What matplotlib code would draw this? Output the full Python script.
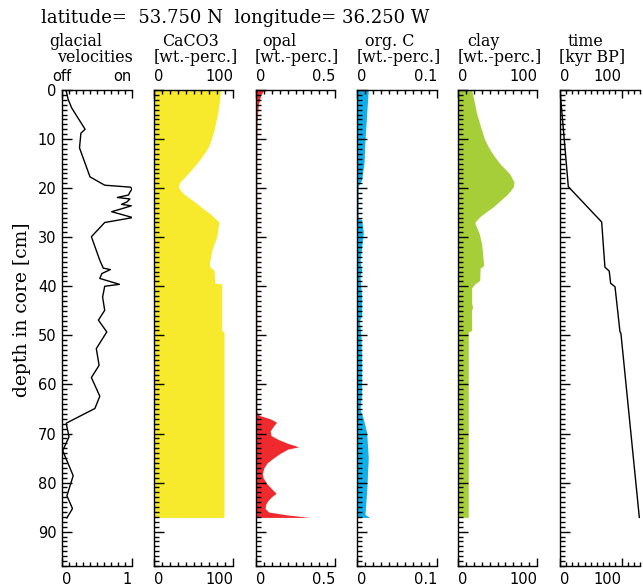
import numpy as np
import matplotlib
matplotlib.use('Agg')
import matplotlib.pyplot as plt
from matplotlib.ticker import FixedLocator, MultipleLocator

# ---------------- data ----------------
vel_depth = [0.2, 2, 3.7, 8, 8.8, 11.8, 17.7, 19.4, 19.8, 20.2, 20.8, 21.4, 21.9,
             22.2, 22.8, 23.3, 23.6, 24.0, 24.8, 26.0, 27.0, 29.9, 34.7, 36.3,
             36.6, 37.4, 38.4, 39.6, 40.0, 42.2, 44.9, 46.9, 49.3, 52.7, 56.1,
             58.6, 62.4, 64.9, 67.9, 70.7, 73.5, 78.6, 82.7, 85.3, 87.2]
vel_value = [0.06, 0.09, 0.14, 0.33, 0.27, 0.25, 0.40, 0.61, 0.98, 1.0, 0.97, 0.95,
             0.79, 0.97, 0.93, 0.85, 0.99, 0.90, 0.71, 1.01, 0.61, 0.42, 0.54,
             0.59, 0.69, 0.57, 0.54, 0.82, 0.61, 0.58, 0.61, 0.52, 0.64, 0.49,
             0.53, 0.42, 0.54, 0.47, 0.06, 0.10, 0.01, 0.16, 0.07, 0.15, 0.07]

caco3_depth = [0, 2, 4.8, 8.2, 10, 11.6, 13.3, 15, 16.4, 17.7, 18.5, 19.0, 19.7,
               20.3, 21.1, 22.1, 23.1, 24.2, 25.2, 26.1, 26.9, 29.9, 32.7, 34.7,
               35.3, 36.1, 36.7, 39.4, 39.5, 49.0, 49.3, 87.1]
caco3_value = [84.4, 83, 80.6, 75.9, 72.5, 68.8, 62, 54, 46.5, 39.2, 34.5, 32,
               30.8, 33, 37.1, 45.5, 54, 62.5, 70.9, 77, 82.3, 79.4, 73, 70.9,
               70, 71, 75.9, 77.2, 85.7, 85.7, 88.6, 88.6]

opal_depth = [0, 1, 3, 6, 10, 20, 40, 65.5, 66.3, 67.0, 67.7, 68.5, 69.5, 70.4,
              71.2, 72.0, 72.7, 73.2, 74.1, 75.0, 76.0, 77.0, 78.2, 79.0, 80.2,
              81.3, 82.2, 83.0, 83.7, 84.5, 85.3, 86.0, 86.6, 87.1]
opal_value = [0.05, 0.03, 0.015, 0.008, 0.006, 0.005, 0.005, 0.005, 0.02, 0.09,
              0.13, 0.11, 0.09, 0.095, 0.14, 0.20, 0.27, 0.20, 0.15, 0.11, 0.07,
              0.05, 0.04, 0.045, 0.068, 0.10, 0.127, 0.095, 0.075, 0.06, 0.058,
              0.08, 0.20, 0.34]

orgc_depth = [0, 4.8, 10.2, 14.9, 18.3, 19.6, 26.2, 26.4, 29, 35, 36.7, 38, 42,
              46, 47, 50, 55, 62, 65, 67, 69.8, 75, 81.8, 86.5, 87.1]
orgc_value = [0.0141, 0.0121, 0.0100, 0.0088, 0.0058, 0.0016, 0.0016, 0.0058,
              0.0079, 0.0037, 0.0058, 0.0037, 0.0058, 0.0058, 0.0030, 0.0050,
              0.0058, 0.0058, 0.0037, 0.0079, 0.0121, 0.0141, 0.0121, 0.0100,
              0.0160]

clay_depth = [0, 2, 4.8, 8.2, 10, 11.6, 13.3, 15, 17, 18.7, 19.7, 20.5, 21.4,
              22.6, 23.8, 24.8, 25.8, 26.9, 27.3, 29.3, 31.5, 34.7, 35.8, 36.3,
              38.8, 39.5, 40.3, 43.5, 44.2, 45, 49, 49.3, 87.1]
clay_value = [17.3, 20, 23.6, 30, 33.5, 38.4, 45, 53, 65, 70.9, 70, 66.5, 61.6,
              53, 44.7, 36, 27.8, 21.5, 21.8, 27, 30, 32, 32.5, 28, 27.5, 21.5,
              17.3, 17.3, 18.5, 17, 17.3, 13, 13]

time_depth = [0, 19.7, 26.9, 36.1, 36.9, 39.4, 40.1, 49.3, 49.6, 87.1]
time_value = [0, 13.5, 67.7, 73, 80, 82.3, 89.4, 97.5, 99, 128.9]

# ---------------- layout (pixels of the 643x586 picture) ----------------
W, H = 643, 586
AX_TOP, AX_BOT = 90, 566
SERIF = ['DejaVu Serif']

fig = plt.figure(figsize=(W / 100, H / 100), dpi=100)
fig.patch.set_facecolor('white')


def make_axes(left, width):
    return fig.add_axes([left / W, 1 - AX_BOT / H, width / W, (AX_BOT - AX_TOP) / H])


def style(ax, xmax, minor_step, major, bot_labels, top_labels, top_ha, show_y):
    ax.set_xlim(0, xmax)
    ax.set_ylim(97, 0)
    ax.spines['right'].set_visible(False)
    for s in ax.spines.values():
        s.set_linewidth(1.0)
    ax.xaxis.set_major_locator(FixedLocator(major))
    ax.xaxis.set_minor_locator(MultipleLocator(minor_step))
    ax.yaxis.set_major_locator(MultipleLocator(10))
    ax.yaxis.set_minor_locator(MultipleLocator(1))
    ax.tick_params(axis='x', which='both', direction='in', top=True, bottom=True,
                   labelsize=10.5, pad=4)
    ax.tick_params(axis='x', which='major', length=6, width=1.0)
    ax.tick_params(axis='x', which='minor', length=3, width=1.0)
    ax.tick_params(axis='y', which='both', direction='in', left=True, right=False,
                   labelleft=show_y, labelsize=10.5, pad=4)
    ax.tick_params(axis='y', which='major', length=7, width=1.0)
    ax.tick_params(axis='y', which='minor', length=3.5, width=1.0)
    ax.set_xticklabels(bot_labels)
    labs = ax.get_xticklabels()
    labs[0].set_ha('left')
    labs[-1].set_ha('right')
    for x, t, ha in zip(major, top_labels, top_ha):
        ax.annotate(t, xy=(x, 1), xycoords=('data', 'axes fraction'),
                    xytext=(0, 4), textcoords='offset points',
                    ha=ha, va='bottom', fontsize=10.5, family='DejaVu Sans')


# glacial velocities
ax1 = make_axes(62, 70)
ax1.plot(vel_value, vel_depth, color='black', lw=1.0)
style(ax1, 1.0, 0.1, [0, 1], ['0', '1'], ['off', 'on'], ['center', 'right'], True)

# CaCO3
ax2 = make_axes(154, 79)
ax2.fill_betweenx(caco3_depth, 0, caco3_value, color='#f7e92b', lw=0)
style(ax2, 100, 10, [0, 100], ['0', '100'], ['0', '100'], ['left', 'right'], False)

# opal
ax3 = make_axes(256, 79)
ax3.fill_betweenx(opal_depth, 0, opal_value, color='#ee2a2f', lw=0)
style(ax3, 0.5, 0.05, [0, 0.5], ['0', '0.5'], ['0', '0.5'], ['left', 'right'], False)

# org. C
ax4 = make_axes(357, 80)
ax4.fill_betweenx(orgc_depth, 0, orgc_value, color='#12aee9', lw=0)
style(ax4, 0.1, 0.01, [0, 0.1], ['0', '0.1'], ['0', '0.1'], ['left', 'right'], False)

# clay
ax5 = make_axes(458, 79)
ax5.fill_betweenx(clay_depth, 0, clay_value, color='#a6ce39', lw=0)
style(ax5, 100, 10, [0, 100], ['0', '100'], ['0', '100'], ['left', 'right'], False)

# time
ax6 = make_axes(560, 80)
ax6.plot(time_value, time_depth, color='black', lw=1.0)
style(ax6, 130, 10, [0, 100], ['0', '100'], ['0', '100'], ['left', 'right'], False)

# ---------------- texts ----------------
def ftext(x, y, s, size=11.4, **kw):
    fig.text(x / W, 1 - y / H, s, fontsize=size, family=SERIF, va='center', **kw)


ftext(41, 18, 'latitude=  53.750 N  longitude= 36.250 W', size=13)
ftext(49, 42, 'glacial')
ftext(57, 58, 'velocities')
ftext(162, 42, 'CaCO3')
ftext(154, 58, '[wt.-perc.]')
ftext(262, 42, 'opal')
ftext(255, 58, '[wt.-perc.]')
ftext(365, 42, 'org. C')
ftext(357, 58, '[wt.-perc.]')
ftext(467, 42, 'clay')
ftext(458, 58, '[wt.-perc.]')
ftext(568, 42, 'time')
ftext(559, 58, '[kyr BP]')
ftext(22, 310, 'depth in core [cm]', size=13.5, rotation=90, ha='center')

fig.savefig('out.png', dpi=100)
